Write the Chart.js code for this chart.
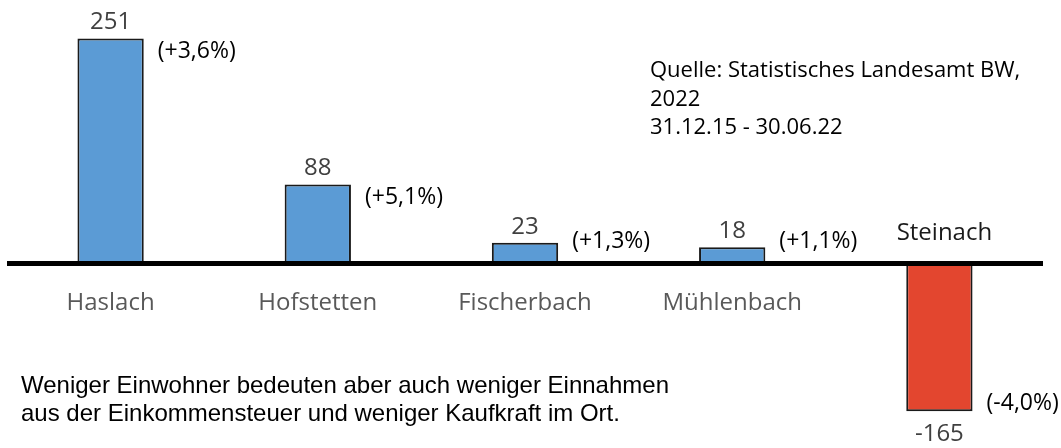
<!DOCTYPE html>
<html>
<head>
<meta charset="utf-8">
<script src="https://cdn.jsdelivr.net/npm/chart.js@4/dist/chart.umd.min.js"></script>
<style>
  html, body { margin: 0; padding: 0; background: #fff; }
  #wrap { position: relative; width: 1061px; height: 448px; }
  #source { position: absolute; left: 650px; top: 54px; font-family: "Open Sans"; font-size: 22px; line-height: 28.5px; color: #000; white-space: nowrap; }
  #note { position: absolute; left: 21px; top: 371px; font-family: "Liberation Sans", Arial; font-size: 24px; line-height: 28px; color: #000; white-space: nowrap; }
</style>
</head>
<body>
<div id="wrap">
  <canvas id="chart" width="1061" height="448"></canvas>
  <div id="source">Quelle: Statistisches Landesamt BW,<br>2022<br>31.12.15 - 30.06.22</div>
  <div id="note">Weniger Einwohner bedeuten aber auch weniger Einnahmen<br>aus der Einkommensteuer und weniger Kaufkraft im Ort.</div>
</div>
<script>
// Einwohnerentwicklung 31.12.15 - 30.06.22
let TOWNS = ["Haslach", "Hofstetten", "Fischerbach", "Mühlenbach", "Steinach"];
let CHANGE = [251, 88, 23, 18, -165];
let CHANGE_PCT = ["(+3,6%)", "(+5,1%)", "(+1,3%)", "(+1,1%)", "(-4,0%)"];

var BLUE = "#5B9BD5";
var RED = "#E3462F";

// zero line + labels next to / above / below the bars
var barLabels = {
  id: "barLabels",
  afterDatasetsDraw(chart) {
    var ctx = chart.ctx;
    var area = chart.chartArea;
    var meta = chart.getDatasetMeta(0);
    var zero = chart.scales.y.getPixelForValue(0);
    ctx.save();
    ctx.strokeStyle = "#000";
    ctx.lineWidth = 5;
    ctx.beginPath();
    ctx.moveTo(area.left, zero);
    ctx.lineTo(area.right, zero);
    ctx.stroke();

    ctx.textBaseline = "middle";
    meta.data.forEach(function (bar, i) {
      var v = CHANGE[i];
      var right = bar.x + bar.width / 2;

      ctx.font = '24px "Open Sans"';
      ctx.fillStyle = "#404040";
      ctx.textAlign = "center";
      ctx.fillText(String(v), bar.x, v >= 0 ? bar.y - 16 : bar.y + 23);

      ctx.font = '23px "Open Sans"';
      ctx.fillStyle = "#000";
      ctx.textAlign = "left";
      var py = v >= 0 ? Math.min(bar.y + 13, zero - 22) : bar.y - 8;
      ctx.fillText(CHANGE_PCT[i], right + 14, py);

      ctx.font = '24px "Open Sans"';
      ctx.textAlign = "center";
      if (v >= 0) {
        ctx.fillStyle = "#595959";
        ctx.fillText(TOWNS[i], bar.x, zero + 40);
      } else {
        ctx.fillStyle = "#1a1a1a";
        ctx.fillText(TOWNS[i], bar.x + 5, zero - 30);
      }
    });
    ctx.restore();
  }
};

var ctx = document.getElementById("chart").getContext("2d");
var chart = new Chart(ctx, {
  type: "bar",
  data: {
    labels: TOWNS,
    datasets: [{
      data: CHANGE,
      backgroundColor: CHANGE.map(v => v >= 0 ? BLUE : RED),
      borderColor: "#1a1a1a",
      borderWidth: 2,
      barPercentage: 0.32,
      categoryPercentage: 1
    }]
  },
  options: {
    responsive: false,
    animation: false,
    layout: { padding: { left: 7, right: 18, top: 0, bottom: 0 } },
    plugins: { legend: { display: false }, tooltip: { enabled: false } },
    scales: {
      x: { display: false },
      y: { display: false, min: -206, max: 294 }
    }
  },
  plugins: [barLabels]
});
</script>
</body>
</html>
